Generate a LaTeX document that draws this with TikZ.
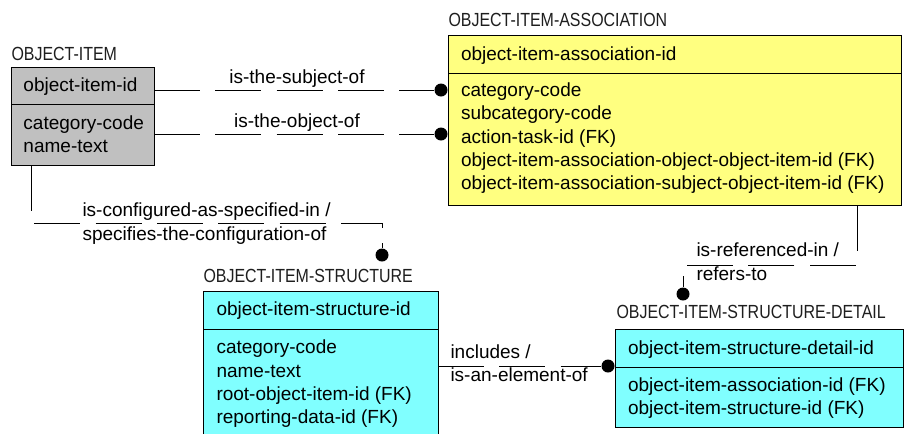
\documentclass[tikz,border=0pt]{standalone}
\usepackage{fontspec}
\setmainfont{Liberation Sans}
\newfontfamily\titlefont[FakeStretch=0.84]{Liberation Sans}
\definecolor{itemgray}{RGB}{192,192,192}
\definecolor{assocyellow}{RGB}{255,255,128}
\definecolor{structcyan}{RGB}{128,255,255}

\tikzset{every picture/.style={line width=0.75pt}}
\tikzset{
  entbox/.style={draw=black, anchor=north west, inner sep=0pt, outer sep=0pt},
  enttitle/.style={anchor=base west, inner sep=0pt, text={rgb,255:red,30;green,30;blue,30}, font=\titlefont\fontsize{14.25pt}{17.6pt}\selectfont},
  attrtext/.style={anchor=base west, align=left, inner sep=0pt, font=\fontsize{14.25pt}{17.4pt}\selectfont},
  rel/.style={draw=black, dash pattern=on 34.5pt off 11.5pt},
  reldot/.style={circle, fill=black, inner sep=0pt, minimum size=9.75pt},
}

\begin{document}
\begin{tikzpicture}[x=0.75pt,y=0.75pt,yscale=-1,xscale=1]
        \useasboundingbox (0,0) rectangle (904,433);
        %Entity: OBJECT-ITEM
        \node[entbox, fill=itemgray, minimum width=107.25pt, minimum height=27.75pt] (oikey) at (11,67) {};
        \node[entbox, fill=itemgray, minimum width=107.25pt, minimum height=45.75pt] (oiattr) at (oikey.south west) {};
        \node[enttitle] (oititle) at (11,60) {OBJECT-ITEM};
        \node[attrtext] (oikeytext) at (23,91.5) {object-item-id};
        % base = last line
        \node[attrtext] (oiattrtext) at (23,152.7) {category-code\\name-text};
        %Entity: OBJECT-ITEM-ASSOCIATION
        \node[entbox, fill=assocyellow, minimum width=339.75pt, minimum height=28.5pt] (oiakey) at (448,35) {};
        \node[entbox, fill=assocyellow, minimum width=339.75pt, minimum height=99pt] (oiaattr) at (oiakey.south west) {};
        \node[enttitle] (oiatitle) at (448,26.5) {OBJECT-ITEM-ASSOCIATION};
        \node[attrtext] (oiakeytext) at (460.5,60) {object-item-association-id};
        \node[attrtext] (oiaattrtext) at (460.5,189.5) {category-code\\subcategory-code\\action-task-id (FK)\\object-item-association-object-object-item-id (FK)\\object-item-association-subject-object-item-id (FK)};
        %Entity: OBJECT-ITEM-STRUCTURE
        \node[entbox, fill=structcyan, minimum width=176.25pt, minimum height=28.5pt] (oiskey) at (203,291) {};
        \node[entbox, fill=structcyan, minimum width=176.25pt, minimum height=84pt] (oisattr) at (oiskey.south west) {};
        \node[enttitle] (oistitle) at (203,282.5) {OBJECT-ITEM-STRUCTURE};
        \node[attrtext] (oiskeytext) at (216,315.5) {object-item-structure-id};
        \node[attrtext] (oisattrtext) at (216,423.5) {category-code\\name-text\\root-object-item-id (FK)\\reporting-data-id (FK)};
        %Entity: OBJECT-ITEM-STRUCTURE-DETAIL
        \node[entbox, fill=structcyan, minimum width=216pt, minimum height=28.5pt] (oisdkey) at (615,329.5) {};
        \node[entbox, fill=structcyan, minimum width=216pt, minimum height=45pt] (oisdattr) at (oisdkey.south west) {};
        \node[enttitle] (oisdtitle) at (616,318.5) {OBJECT-ITEM-STRUCTURE-DETAIL};
        \node[attrtext] (oisdkeytext) at (627.5,354) {object-item-structure-detail-id};
        \node[attrtext] (oisdattrtext) at (627.5,414.8) {object-item-association-id (FK)\\object-item-structure-id (FK)};

        %Relationship ends
        \node[reldot] (dsubj) at (441,90) {};
        \node[reldot] (dobj) at (441,134) {};
        \node[reldot] (dcfg) at (382,255) {};
        \node[reldot] (dref) at (683,294) {};
        \node[reldot] (dinc) at (608,366) {};
        \coordinate (cfgbend) at (382,223);
        \coordinate (refbend) at (683,265);

        %Straight Lines
        \draw[rel] (oikey.east |- dsubj) -- (dsubj);
        \draw[rel] (oiattr.east |- dobj) -- (dobj);
        \draw[rel] ([xshift=15pt]oiattr.south west) |- (cfgbend) -- (dcfg);
        \draw[rel] ([xshift=-33pt]oiaattr.south east) |- (refbend) -- (dref);
        \draw[rel] (oisattr.east |- dinc) -- (dinc);

        % Text Node
        \node[attrtext, anchor=base] (lsubj) at (297,83) {is-the-subject-of};
        % Text Node
        \node[attrtext, anchor=base] (lobj) at (297,127) {is-the-object-of};
        % Text Node
        \node[attrtext] (lcfg) at (82,240) {is-configured-as-specified-in /\\specifies-the-configuration-of};
        % Text Node
        \node[attrtext] (lref) at (696,280) {is-referenced-in /\\refers-to};
        % Text Node
        \node[attrtext] (linc) at (450,381.5) {includes /\\is-an-element-of};
\end{tikzpicture}
\end{document}
